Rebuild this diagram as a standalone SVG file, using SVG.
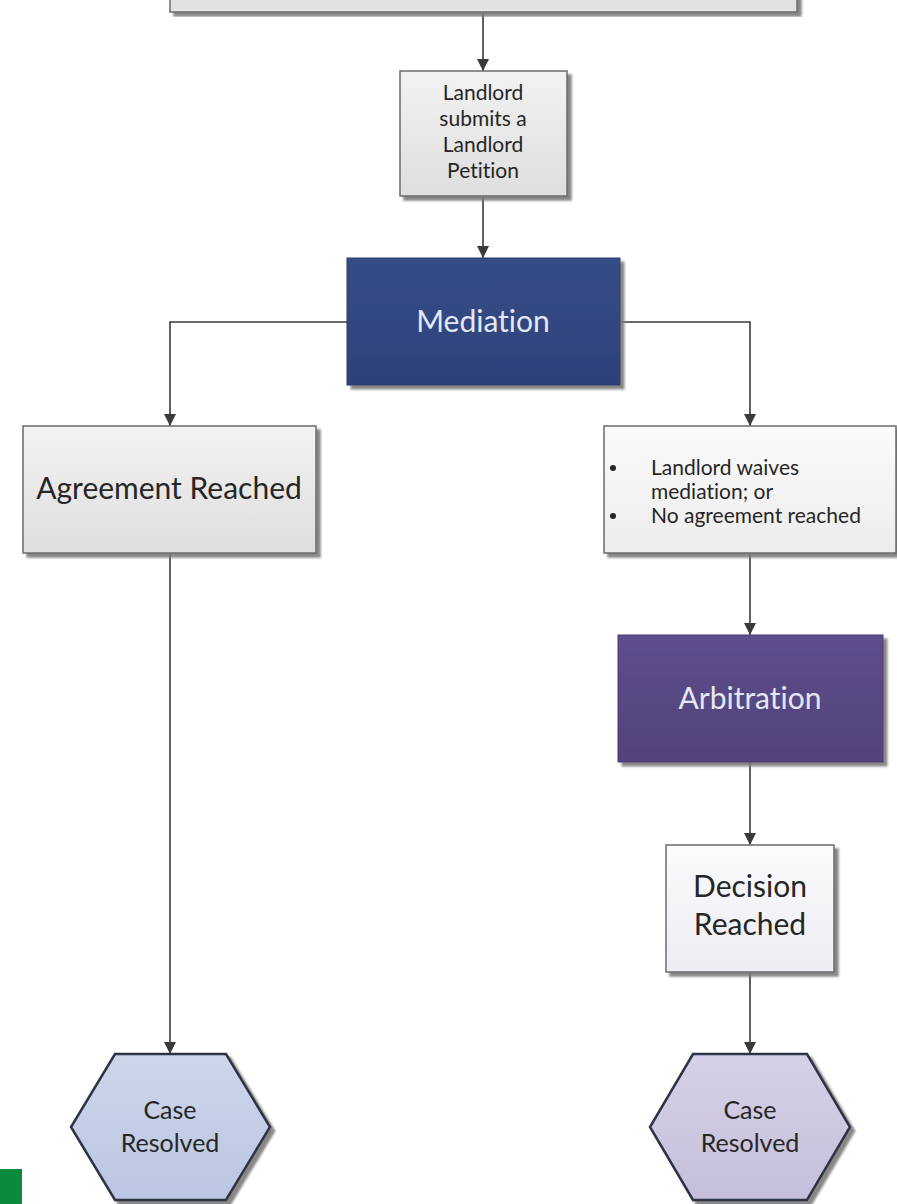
<svg xmlns="http://www.w3.org/2000/svg" width="897" height="1204" viewBox="0 0 897 1204">
<style>
.t{font-family:Lato,"Open Sans","Liberation Sans",sans-serif;text-anchor:middle;fill:#262626;font-variant-ligatures:none;font-feature-settings:"liga" 0}
.s{font-size:21px}
.l{font-size:30px}
.w{fill:#e3e8f4}
.st{text-anchor:start}
.box{stroke:#6b6b6b;stroke-width:1.5}
.hex{stroke:#2e3345;stroke-width:2.5}
.c{fill:none;stroke:#3a3a3a;stroke-width:1.6}
</style>
<defs>
<filter id="sh" x="-10%" y="-10%" width="125%" height="125%">
<feDropShadow dx="4" dy="4" stdDeviation="1.2" flood-color="#7a7a7a" flood-opacity="0.9"/>
</filter>
<linearGradient id="gGrey" x1="0" y1="0" x2="0" y2="1">
<stop offset="0" stop-color="#f2f2f2"/><stop offset="1" stop-color="#dedede"/>
</linearGradient>
<linearGradient id="gWhite" x1="0" y1="0" x2="0" y2="1">
<stop offset="0" stop-color="#fbfbfb"/><stop offset="1" stop-color="#ececec"/>
</linearGradient>
<linearGradient id="gDec" x1="0" y1="0" x2="0" y2="1">
<stop offset="0" stop-color="#fbfbfd"/><stop offset="1" stop-color="#ececf2"/>
</linearGradient>
<linearGradient id="gBlue" x1="0" y1="0" x2="0" y2="1">
<stop offset="0" stop-color="#374d88"/><stop offset="1" stop-color="#2d4179"/>
</linearGradient>
<linearGradient id="gPurple" x1="0" y1="0" x2="0" y2="1">
<stop offset="0" stop-color="#5e4e8c"/><stop offset="1" stop-color="#52427b"/>
</linearGradient>
<linearGradient id="gHexB" x1="0" y1="0" x2="0" y2="1">
<stop offset="0" stop-color="#cdd6ea"/><stop offset="1" stop-color="#bac6e2"/>
</linearGradient>
<linearGradient id="gHexP" x1="0" y1="0" x2="0" y2="1">
<stop offset="0" stop-color="#d6d1e6"/><stop offset="1" stop-color="#c5bedb"/>
</linearGradient>
<marker id="ah" viewBox="0 0 12 12" refX="12" refY="6" markerWidth="12" markerHeight="12" markerUnits="userSpaceOnUse" orient="auto">
<path d="M0,0 L12,6 L0,12 Z" fill="#3a3a3a"/>
</marker>
</defs>
<rect x="0" y="0" width="897" height="1204" fill="#ffffff"/>

<g id="connectors">
<path class="c" d="M483,13 V71" marker-end="url(#ah)"/>
<path class="c" d="M483,196 V258" marker-end="url(#ah)"/>
<path class="c" d="M347,322 H170 V426" marker-end="url(#ah)"/>
<path class="c" d="M620,322 H750 V426" marker-end="url(#ah)"/>
<path class="c" d="M170,553 V1054" marker-end="url(#ah)"/>
<path class="c" d="M750,553 V635" marker-end="url(#ah)"/>
<path class="c" d="M750,762 V845" marker-end="url(#ah)"/>
<path class="c" d="M750,972 V1054" marker-end="url(#ah)"/>
</g>

<g id="top-box">
<rect class="box" x="170" y="-20" width="627" height="32" fill="#e2e2e2" filter="url(#sh)"/>
</g>

<g id="landlord-petition">
<rect class="box" x="400" y="71" width="167" height="125" fill="url(#gGrey)" filter="url(#sh)"/>
<text class="t s" x="483" y="100">Landlord</text>
<text class="t s" x="483" y="126">submits a</text>
<text class="t s" x="483" y="152">Landlord</text>
<text class="t s" x="483" y="178">Petition</text>
</g>

<g id="mediation">
<rect x="347" y="258" width="273" height="127" fill="url(#gBlue)" stroke="#2a3b6c" stroke-width="1" filter="url(#sh)"/>
<text class="t l w" x="483" y="332">Mediation</text>
</g>

<g id="agreement-reached">
<rect class="box" x="23" y="426" width="293" height="127" fill="url(#gGrey)" filter="url(#sh)"/>
<text class="t l" x="169" y="499">Agreement Reached</text>
</g>

<g id="no-agreement">
<rect class="box" x="604" y="426" width="292" height="127" fill="url(#gWhite)" filter="url(#sh)"/>
<circle cx="613" cy="468" r="3" fill="#262626"/>
<circle cx="613" cy="516" r="3" fill="#262626"/>
<text class="t s st" x="651" y="475">Landlord waives</text>
<text class="t s st" x="651" y="499">mediation; or</text>
<text class="t s st" x="651" y="523">No agreement reached</text>
</g>

<g id="arbitration">
<rect x="618" y="635" width="265" height="127" fill="url(#gPurple)" stroke="#4a3b70" stroke-width="1" filter="url(#sh)"/>
<text class="t l w" x="750" y="709">Arbitration</text>
</g>

<g id="decision-reached">
<rect class="box" x="666" y="845" width="168" height="127" fill="url(#gDec)" filter="url(#sh)"/>
<text class="t l" x="750" y="897">Decision</text>
<text class="t l" x="750" y="935">Reached</text>
</g>

<g id="case-resolved-left">
<polygon class="hex" points="115,1054 226,1054 270,1127 226,1200 115,1200 71,1127" fill="url(#gHexB)" filter="url(#sh)"/>
<text class="t" style="font-size:25px" x="170" y="1119">Case</text>
<text class="t" style="font-size:25px" x="170" y="1152">Resolved</text>
</g>

<g id="case-resolved-right">
<polygon class="hex" points="693,1054 807,1054 850,1127 807,1200 693,1200 650,1127" fill="url(#gHexP)" filter="url(#sh)"/>
<text class="t" style="font-size:25px" x="750" y="1119">Case</text>
<text class="t" style="font-size:25px" x="750" y="1152">Resolved</text>
</g>

<rect x="0" y="1169" width="22" height="35" fill="#0b8a3e"/>
</svg>
